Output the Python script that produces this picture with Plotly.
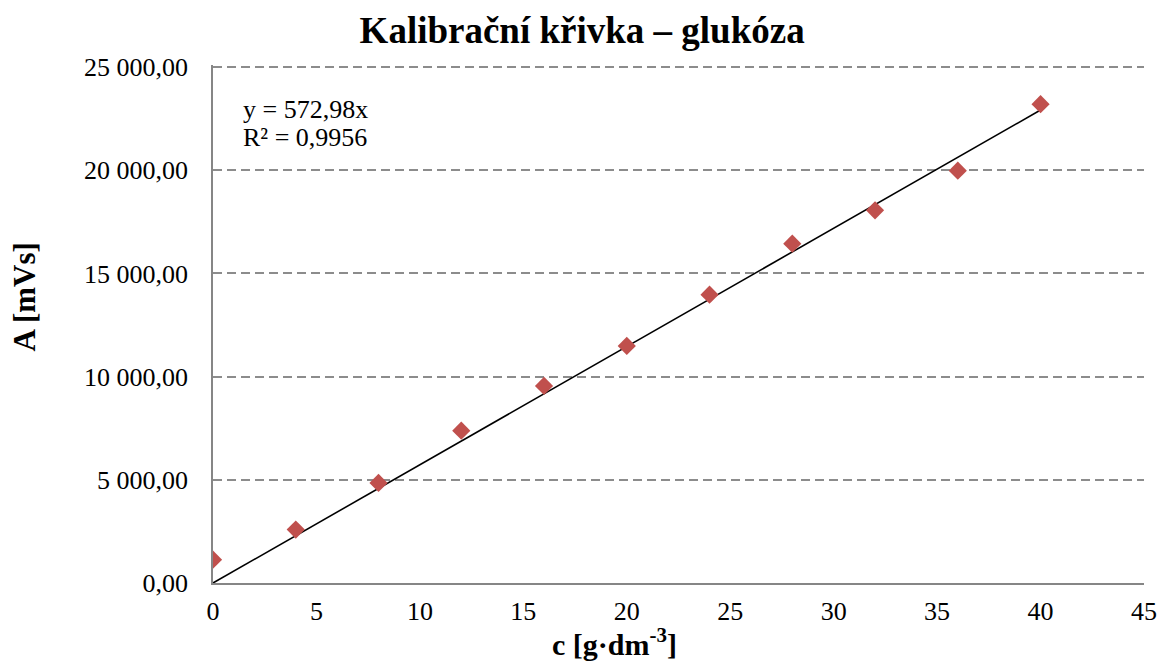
import plotly.graph_objects as go

# Calibration data: glucose concentration vs. peak area
conc = [0, 4, 8, 12, 16, 20, 24, 28, 32, 36, 40]
area = [1130, 2590, 4850, 7380, 9550, 11490, 13970, 16440, 18060, 19980, 23200]

slope = 572.98
r2_text = "0,9956"
fit_x = [0, 40]
fit_y = [slope * v for v in fit_x]

y_ticks = [0, 5000, 10000, 15000, 20000, 25000]
x_ticks = [0, 5, 10, 15, 20, 25, 30, 35, 40, 45]

serif = "Liberation Serif, Times New Roman, serif"

fig = go.Figure()
fig.add_trace(go.Scatter(
    x=fit_x, y=fit_y, mode="lines",
    line=dict(color="black", width=1.6),
    showlegend=False, hoverinfo="skip",
))
fig.add_trace(go.Scatter(
    x=conc, y=area, mode="markers",
    marker=dict(symbol="diamond", size=14, color="#C0504D"),
    showlegend=False,
))

fig.update_layout(
    width=1169, height=664,
    margin=dict(l=213, r=17, t=65, b=81),
    paper_bgcolor="white", plot_bgcolor="white",
    separators=", ",
    font=dict(family=serif, size=26, color="black"),
    title=dict(text="<b>Kalibrační křivka – glukóza</b>", x=0.498, xanchor="center",
               y=0.955, yanchor="middle", font=dict(family=serif, size=37, color="black")),
    showlegend=False,
)
fig.update_xaxes(
    range=[0, 45], tickvals=x_ticks, ticks="", showgrid=False,
    showline=True, linecolor="#868686", linewidth=2,
    zeroline=False, ticklabelstandoff=4,
    tickfont=dict(family=serif, size=26),
)
# top of the range sits a little above 25 000 so that gridline is kept
fig.update_yaxes(
    range=[0, 25100], tickvals=y_ticks, tickformat=",.2f", ticks="",
    showgrid=True, gridcolor="#8C8C8C", gridwidth=1.5, griddash="9px,5px",
    showline=True, linecolor="#868686", linewidth=1.5,
    zeroline=False, ticklabelstandoff=18,
    tickfont=dict(family=serif, size=26),
)

fig.add_annotation(
    text="y = 572,98x",
    xref="paper", yref="paper", x=0.03, y=0.915, xanchor="left", yanchor="middle",
    align="left", showarrow=False, font=dict(family=serif, size=26, color="black"),
)
fig.add_annotation(
    text="R² = " + r2_text,
    xref="paper", yref="paper", x=0.03, y=0.861, xanchor="left", yanchor="middle",
    align="left", showarrow=False, font=dict(family=serif, size=26, color="black"),
)
fig.add_annotation(
    text="<b>c [g·dm<sup>-3</sup>]</b>",
    xref="paper", yref="paper", x=0.431, y=-0.113, xanchor="center", yanchor="middle",
    showarrow=False, font=dict(family=serif, size=30, color="black"),
)
fig.add_annotation(
    text="<b>A [mVs]</b>",
    xref="paper", yref="paper", x=-0.202, y=0.553, xanchor="center", yanchor="middle",
    textangle=-90, showarrow=False, font=dict(family=serif, size=31, color="black"),
)

fig.write_html("out.html")
